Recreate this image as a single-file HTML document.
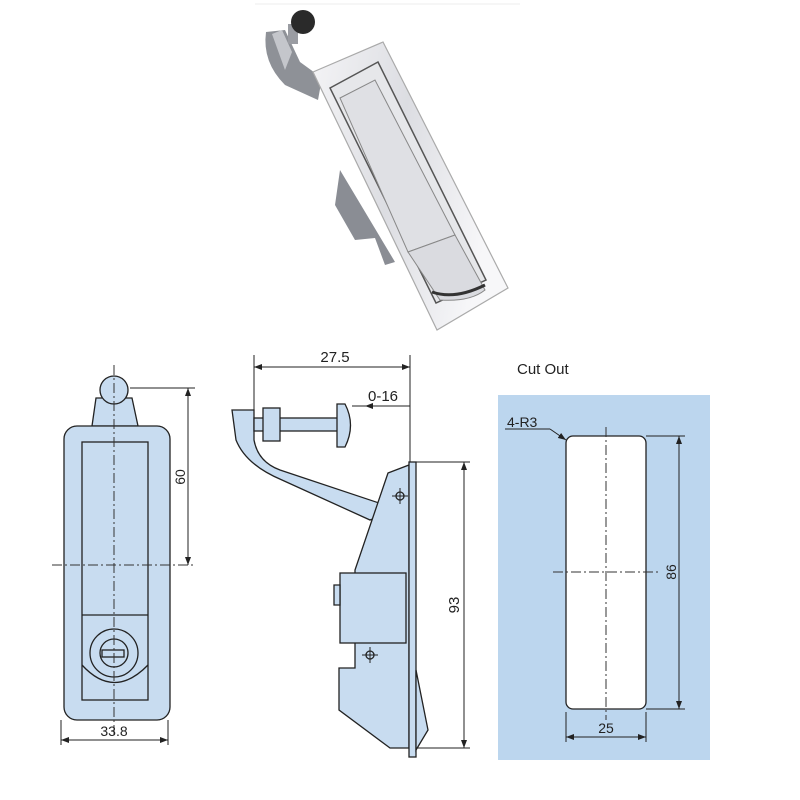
<!DOCTYPE html>
<html><head><meta charset="utf-8"><style>
body{margin:0;background:#fff}
svg{display:block}
text{font-family:"Liberation Sans",sans-serif;fill:#222}
</style></head><body>
<svg width="800" height="800" viewBox="0 0 800 800" xmlns="http://www.w3.org/2000/svg">
<defs>
<linearGradient id="chrome" x1="0" y1="0" x2="1" y2="0.3">
<stop offset="0" stop-color="#f4f4f6"/><stop offset="0.5" stop-color="#dcdde2"/><stop offset="1" stop-color="#f7f7f9"/>
</linearGradient>
<marker id="a" markerWidth="8" markerHeight="6" refX="8" refY="3" orient="auto"><path d="M0,0 L8,3 L0,6 Z" fill="#222"/></marker>
<marker id="b" markerWidth="8" markerHeight="6" refX="0" refY="3" orient="auto"><path d="M8,0 L0,3 L8,6 Z" fill="#222"/></marker>
</defs>
<!-- photo -->
<line x1="255" y1="4" x2="520" y2="4" stroke="#eee"/>
<path d="M266,32 Q262,62 285,85 L318,100 L322,78 L300,62 L285,30 Z" fill="#8e9197"/>
<path d="M272,34 L282,30 L292,52 L285,70 Z" fill="#c4c6cb"/>
<path d="M340,170 L335,205 L355,240 L375,238 L385,265 L395,262 Z" fill="#8a8d94"/>
<rect x="288" y="24" width="10" height="20" fill="#9a9ca2"/>
<circle cx="303" cy="22" r="12" fill="#2a2a2a"/>
<path d="M313,72 L383,42 L508,288 L437,330 Z" fill="url(#chrome)" stroke="#aaa" stroke-width="1.2"/>
<path d="M330,88 L378,62 L486,280 L436,303 Z" fill="#e6e7ea" stroke="#555" stroke-width="1.5"/>
<path d="M340,98 L375,80 L455,235 L408,252 Z" fill="#dfe0e4" stroke="#888"/>
<path d="M408,252 L455,235 L485,290 Q470,302 440,300 Z" fill="#dadbe0" stroke="#888"/>
<path d="M432,292 Q455,300 485,285" stroke="#333" stroke-width="3" fill="none"/>
<!-- left view -->
<g stroke="#222" stroke-width="1.3" fill="#c8dcf0">
<path d="M92,426 L96,398 L132,398 L138,426 Z"/>
<circle cx="114" cy="390" r="14"/>
<rect x="64" y="426" width="106" height="294" rx="13"/>
<rect x="82" y="442" width="66" height="258"/>
<line x1="82" y1="615" x2="148" y2="615"/>
<path d="M82,665 Q114,700 148,665" fill="none"/>
<circle cx="114" cy="653" r="24"/>
<circle cx="114" cy="653" r="14"/>
<rect x="102" y="650" width="22" height="7" fill="#c8dcf0"/>
</g>
<g stroke="#333" stroke-width="1" stroke-dasharray="10,3,2,3" fill="none">
<line x1="114" y1="365" x2="114" y2="735"/>
<line x1="52" y1="565" x2="195" y2="565"/>
</g>
<g stroke="#222" stroke-width="1" fill="none">
<line x1="130" y1="388" x2="195" y2="388"/>
<line x1="188" y1="388" x2="188" y2="565" marker-start="url(#b)" marker-end="url(#a)"/>
<line x1="61" y1="720" x2="61" y2="745"/><line x1="168" y1="720" x2="168" y2="745"/>
<line x1="61" y1="740" x2="168" y2="740" marker-start="url(#b)" marker-end="url(#a)"/>
</g>
<text x="114" y="736" font-size="14" text-anchor="middle">33.8</text>
<text transform="translate(185,477) rotate(-90)" font-size="14" text-anchor="middle">60</text>
<!-- side view -->
<g stroke="#222" stroke-width="1.3" fill="#c8dcf0">
<path d="M232,410 L254,410 L254,440 Q258,462 280,470 L385,505 L383,515 L370,520 L282,480 Q246,465 236,440 Z"/>
<rect x="254" y="418" width="85" height="13"/>
<rect x="263" y="408" width="17" height="33"/>
<path d="M337,404 L345,404 Q356,425 345,447 L337,447 Z"/>
<path d="M388,473 L409,465 L409,748 L390,748 L339,710 L339,668 L355,668 L355,570 Z"/>
<rect x="340" y="573" width="66" height="70"/>
<path d="M334,585 L340,585 L340,605 L334,605 Z"/>
<rect x="409" y="462" width="7" height="295"/>
<path d="M416,670 L428,730 L416,750 Z"/>
<circle cx="400" cy="496" r="4" fill="none"/><circle cx="370" cy="655" r="4" fill="none"/>
</g>
<g stroke="#222" stroke-width="1" fill="none">
<line x1="392" y1="496" x2="408" y2="496"/><line x1="400" y1="488" x2="400" y2="504"/>
<line x1="362" y1="655" x2="378" y2="655"/><line x1="370" y1="647" x2="370" y2="663"/>
<line x1="254" y1="355" x2="254" y2="410"/><line x1="410" y1="355" x2="410" y2="462"/>
<line x1="254" y1="367" x2="410" y2="367" marker-start="url(#b)" marker-end="url(#a)"/>
<line x1="352" y1="406" x2="410" y2="406"/>
<line x1="392" y1="406" x2="365" y2="406" marker-end="url(#a)"/>
<line x1="416" y1="462" x2="470" y2="462"/><line x1="416" y1="748" x2="470" y2="748"/>
<line x1="464" y1="462" x2="464" y2="748" marker-start="url(#b)" marker-end="url(#a)"/>
</g>
<text x="335" y="362" font-size="15" text-anchor="middle">27.5</text>
<text x="383" y="401" font-size="15" text-anchor="middle">0-16</text>
<text transform="translate(459,605) rotate(-90)" font-size="15" text-anchor="middle">93</text>
<!-- cut out -->
<text x="517" y="374" font-size="15">Cut Out</text>
<rect x="498" y="395" width="212" height="365" fill="#bcd6ee"/>
<rect x="566" y="436" width="80" height="273" rx="7" fill="#fff" stroke="#222" stroke-width="1.3"/>
<g stroke="#333" stroke-width="1" stroke-dasharray="10,3,2,3" fill="none">
<line x1="606" y1="427" x2="606" y2="720"/>
<line x1="553" y1="572" x2="658" y2="572"/>
</g>
<g stroke="#222" stroke-width="1" fill="none">
<line x1="505" y1="429" x2="550" y2="429"/>
<line x1="550" y1="429" x2="566" y2="440" marker-end="url(#a)"/>
<line x1="646" y1="436" x2="685" y2="436"/><line x1="646" y1="709" x2="685" y2="709"/>
<line x1="679" y1="436" x2="679" y2="709" marker-start="url(#b)" marker-end="url(#a)"/>
<line x1="566" y1="712" x2="566" y2="742"/><line x1="646" y1="712" x2="646" y2="742"/>
<line x1="566" y1="737" x2="646" y2="737" marker-start="url(#b)" marker-end="url(#a)"/>
</g>
<text x="507" y="427" font-size="14">4-R3</text>
<text x="606" y="733" font-size="14" text-anchor="middle">25</text>
<text transform="translate(676,572) rotate(-90)" font-size="14" text-anchor="middle">86</text>
</svg>
</body></html>
